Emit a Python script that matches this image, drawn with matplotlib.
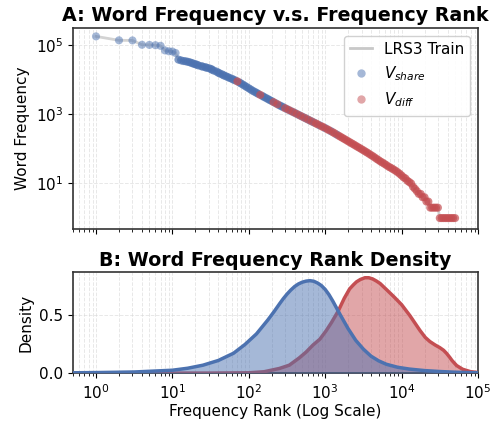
import numpy as np
import matplotlib
matplotlib.use("Agg")
import matplotlib.pyplot as plt
from matplotlib.lines import Line2D
from matplotlib.ticker import NullLocator, LogLocator

# ---------------- data ----------------
ranks = [1, 2, 3, 4, 5, 6, 7, 8, 9, 10, 11, 12, 13, 14,
         15, 16, 17, 18, 19, 20, 21, 22, 24, 25, 27, 28, 30, 32, 33, 35, 38, 40, 42, 45,
         47, 50, 53, 56, 60, 63, 67, 71, 75, 79, 84, 89, 94, 100, 106, 112, 119, 126,
         133, 141, 150, 158, 168, 178, 188, 200, 211, 224, 237, 251, 266, 282, 299, 316,
         335, 355, 376, 398, 422, 447, 473, 501, 531, 562, 596, 631, 668, 708, 750, 794,
         841, 891, 944, 1000, 1059, 1122, 1189, 1259, 1334, 1413, 1496, 1585, 1679, 1778,
         1884, 1995, 2113, 2239, 2371, 2512, 2661, 2818, 2985, 3162, 3350, 3548, 3758,
         3981, 4217, 4467, 4732, 5012, 5309, 5623, 5957, 6310, 6683, 7079, 7499, 7943,
         8414, 8913, 9441, 10000, 10593, 11220, 11885, 12589, 13335, 14125, 14962, 15849,
         16788, 17783, 18836, 19953, 21135, 22387, 23714, 25119, 26607, 28184, 29854,
         31623, 33497, 35481, 37584, 39811, 42170, 44668, 47315, 50119]
freqs = [178000, 137000, 136000, 102000, 101000, 99000, 95000, 70000, 66000, 65000,
         59000, 38000, 36000, 34500,
         33900, 32700, 31600, 30200, 28800, 27900, 26900, 25700, 24500, 23700, 22900,
         22100, 21400, 20400, 19300, 18200, 17000, 15800, 15000, 14100, 13300, 12600,
         11900, 11200, 10600, 10000, 9440, 8910, 8320, 7760, 7160, 6610, 6100, 5620,
         5190, 4790, 4470, 4170, 3890, 3630, 3390, 3160, 2950, 2750, 2570, 2400, 2240,
         2090, 1950, 1820, 1710, 1600, 1500, 1410, 1330, 1240, 1170, 1100, 1030, 966,
         907, 851, 799, 750, 704, 661, 620, 582, 547, 513, 481, 452, 424, 398, 372, 347,
         324, 302, 280, 260, 241, 224, 208, 193, 179, 166, 154, 143, 133, 123, 114, 106,
         98, 91, 84, 78, 72, 66, 61, 56, 51, 47, 43, 40, 37, 34, 31, 29, 27, 25, 23, 21,
         19, 17, 15, 14, 12, 11, 10, 8, 7, 6, 5, 5, 4, 4, 3, 3, 2, 2, 2, 2, 2,
         1, 1, 1, 1, 1, 1, 1, 1, 1]
# s = V_share word, d = V_diff word
groups = ("s" * 41 + "d" + "s" * 11 + "d" + "s" * 6 + "d" + "s" + "d" + "s" * 3
          + "ds" * 8 + "dds" * 4 + "dd" + "d" * 60)

# density of log10(rank)
share_lr = [-0.30, 0.00, 0.50, 1.00, 1.20, 1.40, 1.60, 1.80, 1.95, 2.10, 2.25, 2.33,
            2.40, 2.45, 2.50, 2.55, 2.60, 2.65, 2.70, 2.75, 2.80, 2.85, 2.90, 2.95,
            3.00, 3.05, 3.10, 3.15, 3.20, 3.30, 3.40, 3.50, 3.60, 3.70, 3.80, 3.95,
            4.10, 4.30, 4.50, 4.70, 5.00]
share_den = [0.003, 0.005, 0.010, 0.025, 0.042, 0.068, 0.108, 0.17, 0.245, 0.335,
             0.455, 0.525, 0.59, 0.635, 0.675, 0.71, 0.74, 0.762, 0.777, 0.786, 0.79,
             0.785, 0.77, 0.748, 0.715, 0.67, 0.615, 0.555, 0.495, 0.38, 0.28, 0.205,
             0.145, 0.105, 0.076, 0.05, 0.035, 0.022, 0.014, 0.008, 0.003]
diff_lr = [-0.30, 1.50, 2.00, 2.20, 2.40, 2.53, 2.66, 2.75, 2.84, 2.93, 3.01, 3.08,
           3.17, 3.25, 3.32, 3.37, 3.41, 3.46, 3.52, 3.57, 3.62, 3.67, 3.72, 3.80,
           3.90, 4.00, 4.11, 4.24, 4.31, 4.37, 4.44, 4.50, 4.55, 4.59, 4.63, 4.66,
           4.72, 4.80, 4.90, 5.00]
diff_den = [0.0, 0.0005, 0.003, 0.012, 0.04, 0.068, 0.13, 0.18, 0.24, 0.29, 0.36,
            0.43, 0.53, 0.64, 0.72, 0.755, 0.78, 0.80, 0.815, 0.815, 0.805, 0.787,
            0.765, 0.715, 0.652, 0.585, 0.49, 0.365, 0.305, 0.27, 0.24, 0.218, 0.195,
            0.168, 0.135, 0.108, 0.065, 0.033, 0.013, 0.005]

BLUE = "#4C72B0"
RED = "#C44E52"

# ---------------- figure ----------------
fig = plt.figure(figsize=(5, 4.25), dpi=100)
gs = fig.add_gridspec(2, 1, height_ratios=[2, 1], left=0.146, right=0.956,
                      top=0.934, bottom=0.122, hspace=0.285)
ax1 = fig.add_subplot(gs[0])
ax2 = fig.add_subplot(gs[1], sharex=ax1)

r = np.array(ranks)
f = np.array(freqs)
g = np.array(list(groups))
sm = g == "s"
dm = g == "d"
# sparse head points look lighter, dense body is near-opaque
alpha = np.where(r < 12, 0.5, 0.7)

ax1.plot(r, f, color="#c8c8c8", lw=2, alpha=0.8, zorder=2)
ax1.scatter(r[sm], f[sm], s=34, color=BLUE, alpha=alpha[sm], edgecolors="none", zorder=3)
ax1.scatter(r[dm], f[dm], s=34, color=RED, alpha=alpha[dm], edgecolors="none", zorder=4)
ax1.set_xscale("log")
ax1.set_yscale("log")
ax1.set_xlim(0.5, 1e5)
ax1.set_ylim(0.47, 3.1e5)
ax1.set_yticks([1e1, 1e3, 1e5])
ax1.yaxis.set_minor_locator(NullLocator())
ax1.set_ylabel("Word Frequency", fontsize=11)
ax1.set_title("A: Word Frequency v.s. Frequency Rank", fontsize=13.7, fontweight="bold", pad=5)
ax1.tick_params(labelbottom=False)

handles = [Line2D([0], [0], color="#c8c8c8", lw=2),
           Line2D([0], [0], marker="o", ls="none", color=BLUE, alpha=0.5, markeredgewidth=0, markersize=6),
           Line2D([0], [0], marker="o", ls="none", color=RED, alpha=0.5, markeredgewidth=0, markersize=6)]
ax1.legend(handles, ["LRS3 Train", r"$V_{share}$", r"$V_{diff}$"], loc="upper right",
           fontsize=11, framealpha=0.9, edgecolor="#cccccc", handlelength=1.4)

# density panel
sx = 10 ** np.array(share_lr)
dx = 10 ** np.array(diff_lr)
ax2.fill_between(dx, diff_den, color=RED, alpha=0.5, lw=0, zorder=2)
ax2.plot(dx, diff_den, color=RED, lw=2.5, zorder=3)
ax2.fill_between(sx, share_den, color=BLUE, alpha=0.5, lw=0, zorder=4)
ax2.plot(sx, share_den, color=BLUE, lw=2.5, zorder=5)
ax2.set_ylim(0, 0.86)
ax2.set_xlim(0.5, 1e5)
ax2.set_yticks([0.0, 0.5])
ax2.set_ylabel("Density", fontsize=11)
ax2.set_xlabel("Frequency Rank (Log Scale)", fontsize=11, labelpad=2)
ax2.set_title("B: Word Frequency Rank Density", fontsize=13.7, fontweight="bold", pad=5)

for ax in (ax1, ax2):
    ax.xaxis.set_major_locator(LogLocator(base=10, numticks=10))
    ax.xaxis.set_minor_locator(LogLocator(base=10, subs=np.arange(2, 10), numticks=12))
    ax.grid(True, which="both", ls="--", color="#d8d8d8", lw=0.7, alpha=0.6)
    ax.set_axisbelow(True)
    ax.tick_params(labelsize=11)
    for sp in ax.spines.values():
        sp.set_color("#333333")
        sp.set_linewidth(1.2)

fig.savefig("out.png", dpi=100)
